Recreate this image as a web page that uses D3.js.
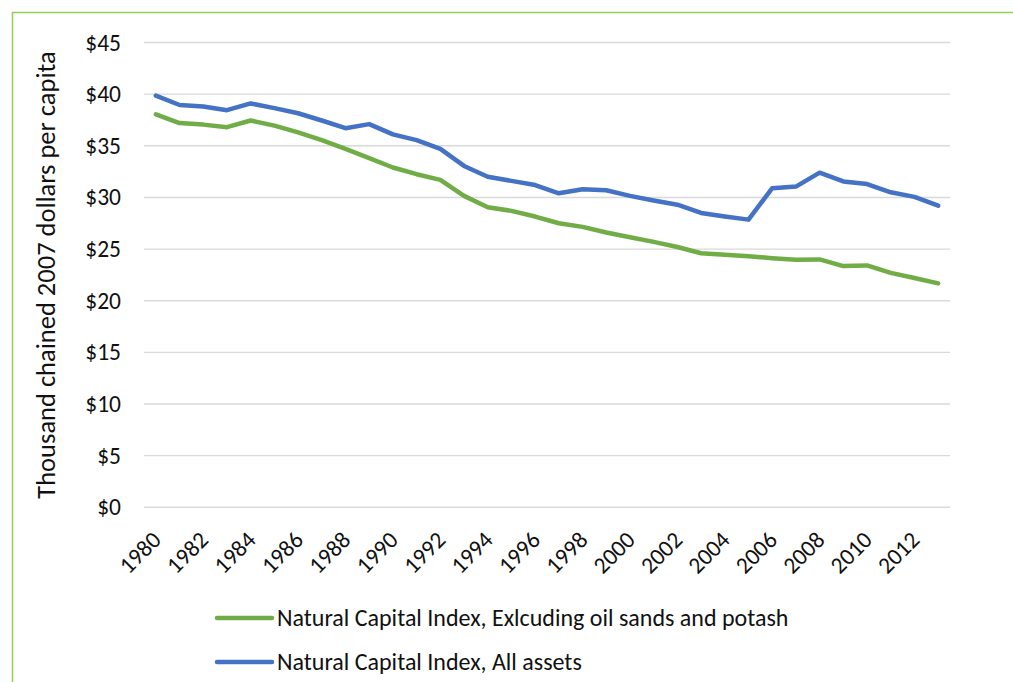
<!DOCTYPE html>
<html>
<head>
<meta charset="utf-8">
<script src="https://cdn.jsdelivr.net/npm/d3@7"></script>
<style>
  body { margin: 0; background: #fff; }
  text { font-family: Carlito, Lato, "Open Sans", sans-serif; fill: #111; }
</style>
</head>
<body>
<div id="chart"></div>
<script>
// data
const years = d3.range(1980, 2014);
const tickYears = d3.range(1980, 2013, 2);
const allAssets = [39.85, 38.95, 38.8, 38.45, 39.1, 38.65, 38.15, 37.45, 36.7, 37.1, 36.1, 35.55, 34.7,
  33.05, 32.0, 31.6, 31.2, 30.4, 30.8, 30.7, 30.15, 29.7, 29.3, 28.5, 28.15, 27.85, 30.9, 31.05,
  32.4, 31.55, 31.3, 30.5, 30.05, 29.2];
const exclOilPotash = [38.05, 37.2, 37.05, 36.8, 37.45, 36.95, 36.3, 35.55, 34.7, 33.8, 32.9, 32.25, 31.7,
  30.15, 29.05, 28.7, 28.15, 27.5, 27.15, 26.6, 26.15, 25.7, 25.2, 24.6, 24.45, 24.3, 24.12, 23.97,
  24.0, 23.35, 23.42, 22.7, 22.2, 21.68];
const yTicks = [0, 5, 10, 15, 20, 25, 30, 35, 40, 45];
const seriesNames = ["Natural Capital Index, Exlcuding oil sands and potash", "Natural Capital Index, All assets"];
const seriesColors = ["#70ad47", "#4472c4"];

const config = {
  width: 1013,
  height: 682,
  plot: {left: 144, right: 950, top: 42.5, bottom: 507.3}
};

const svg = d3.select("#chart").append("svg")
  .attr("width", config.width)
  .attr("height", config.height);

// green frame (top + left edges are visible)
svg.append("path")
  .attr("d", `M12.5,${config.height} V12.5 H${config.width}`)
  .attr("fill", "none")
  .attr("stroke", "#92d050")
  .attr("stroke-width", 1.5);

const x = d3.scalePoint().domain(years)
  .range([config.plot.left, config.plot.right]).padding(0.5);
const y = d3.scaleLinear().domain([0, 45])
  .range([config.plot.bottom, config.plot.top]);

// gridlines
svg.append("g").selectAll("line").data(yTicks).join("line")
  .attr("x1", config.plot.left).attr("x2", config.plot.right)
  .attr("y1", d => y(d)).attr("y2", d => y(d))
  .attr("stroke", "#d9d9d9").attr("stroke-width", 1.4);

// y axis labels
const yAxis = svg.append("g")
  .attr("transform", `translate(${config.plot.left}, 0)`)
  .call(d3.axisLeft(y).tickValues(yTicks).tickFormat(d => "$" + d).tickSize(0).tickPadding(23));
yAxis.select(".domain").remove();
yAxis.selectAll("text").attr("font-size", 23.5).attr("font-family", null).attr("fill", "#111");

// x axis labels, rotated
const xAxis = svg.append("g")
  .attr("transform", `translate(0, ${config.plot.bottom})`)
  .call(d3.axisBottom(x).tickValues(tickYears).tickSize(0));
xAxis.select(".domain").remove();
xAxis.selectAll("text")
  .attr("font-size", 23.5).attr("font-family", null).attr("fill", "#111")
  .attr("text-anchor", "end")
  .attr("dy", null).attr("y", 0)
  .attr("transform", "translate(6, 34) rotate(-45)");

// axis title
svg.append("text")
  .attr("transform", "translate(55, 275) rotate(-90)")
  .attr("text-anchor", "middle")
  .attr("font-size", 26.5)
  .text("Thousand chained 2007 dollars per capita");

// lines
const line = d3.line().x((d, i) => x(years[i])).y(d => y(d));
[exclOilPotash, allAssets].forEach((vals, k) => {
  svg.append("path")
    .datum(vals)
    .attr("d", line)
    .attr("fill", "none")
    .attr("stroke", seriesColors[k])
    .attr("stroke-width", 4.5)
    .attr("stroke-linejoin", "round")
    .attr("stroke-linecap", "round");
});

// legend
const legend = svg.append("g").selectAll("g").data(seriesNames).join("g")
  .attr("transform", (d, i) => `translate(217, ${618 + i * 44})`);
legend.append("line")
  .attr("x1", 0).attr("x2", 55)
  .attr("stroke", (d, i) => seriesColors[i])
  .attr("stroke-width", 4.5)
  .attr("stroke-linecap", "round");
legend.append("text")
  .attr("x", 60)
  .attr("dy", "0.35em")
  .attr("font-size", 24)
  .text(d => d);
</script>
</body>
</html>
